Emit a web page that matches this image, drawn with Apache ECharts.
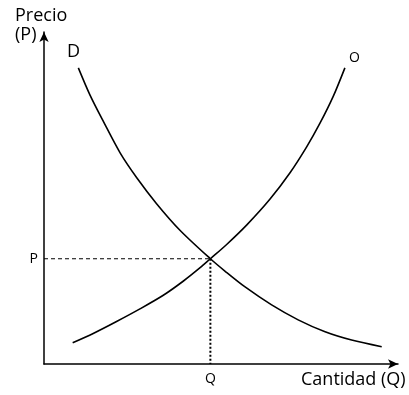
<!DOCTYPE html>
<html>
<head>
<meta charset="utf-8">
<script src="https://cdn.jsdelivr.net/npm/echarts@6/dist/echarts.min.js"></script>
<style>
    html, body { margin: 0; padding: 0; background: #fff; }
    #chart { width: 409px; height: 395px; }
</style>
</head>
<body>
<div id="chart"></div>
<script>
// 需求曲线 D
const demandPoints = [
    [9.7, 89.2], [13.0, 81.0], [16.8, 73.0], [21.5, 63.6], [26.2, 56.1],
    [31.8, 48.3], [38.4, 40.3], [47.0, 31.7], [51.1, 28.0], [56.8, 23.2],
    [64.3, 17.8], [71.8, 13.3], [79.4, 9.7], [86.9, 7.2], [95.4, 5.2]
];

// 供给曲线 O
const supplyPoints = [
    [8.1, 6.4], [13.9, 9.2], [20.5, 12.8], [27.1, 16.6], [33.7, 20.7],
    [39.4, 25.0], [44.1, 29.0], [47.0, 31.7], [51.6, 36.0], [57.3, 41.9],
    [63.8, 49.6], [69.5, 57.6], [74.2, 65.4], [78.0, 72.6], [81.7, 80.6],
    [85.0, 89.2]
];

// 均衡点
const equilibrium = [47.0, 31.7];
const priceLabel = 'P';
const quantityLabel = 'Q';

const font = '"Open Sans", sans-serif';

let chart = echarts.init(document.getElementById('chart'));

let option = {
    animation: false,
    grid: {
        left: 44,
        right: 11,
        top: 32,
        bottom: 31
    },
    xAxis: {
        type: 'value',
        min: 0,
        max: 100,
        splitLine: { show: false },
        axisTick: { show: false },
        axisLine: {
            lineStyle: { color: '#000', width: 1.5 },
            symbol: ['none', 'arrow'],
            symbolSize: [7, 10]
        },
        axisLabel: {
            customValues: [equilibrium[0]],
            formatter: () => quantityLabel,
            color: '#000',
            fontFamily: font,
            fontSize: 14,
            margin: 8
        }
    },
    yAxis: {
        type: 'value',
        min: 0,
        max: 100,
        splitLine: { show: false },
        axisTick: { show: false },
        axisLine: {
            lineStyle: { color: '#000', width: 1.5 },
            symbol: ['none', 'arrow'],
            symbolSize: [7, 10]
        },
        axisLabel: {
            customValues: [equilibrium[1]],
            formatter: () => priceLabel,
            color: '#000',
            fontFamily: font,
            fontSize: 14,
            margin: 6
        }
    },
    graphic: [
        {
            type: 'text', left: 15, top: 6,
            style: { text: 'Precio\n(P)', font: '18px ' + font, fill: '#000', lineHeight: 19 }
        },
        {
            type: 'text', left: 67, top: 43,
            style: { text: 'D', font: '18px ' + font, fill: '#000' }
        },
        {
            type: 'text', left: 349, top: 51,
            style: { text: 'O', font: '14px ' + font, fill: '#000' }
        },
        {
            type: 'text', left: 301, top: 371,
            style: { text: 'Cantidad (Q)', font: '18px ' + font, fill: '#000' }
        }
    ],
    series: [
        {
            name: 'D',
            type: 'line',
            smooth: 0.3,
            showSymbol: false,
            lineStyle: { color: '#000', width: 1.6 },
            data: demandPoints
        },
        {
            name: 'O',
            type: 'line',
            smooth: 0.3,
            showSymbol: false,
            lineStyle: { color: '#000', width: 1.6 },
            data: supplyPoints
        },
        {
            // 价格虚线
            type: 'line',
            showSymbol: false,
            lineStyle: { color: '#000', width: 1, type: [4, 3] },
            data: [[0, equilibrium[1]], equilibrium]
        },
        {
            // 数量点线
            type: 'line',
            showSymbol: false,
            lineStyle: { color: '#000', width: 2, type: [2, 2] },
            data: [equilibrium, [equilibrium[0], 0]]
        }
    ]
};

chart.setOption(option);
</script>
</body>
</html>
